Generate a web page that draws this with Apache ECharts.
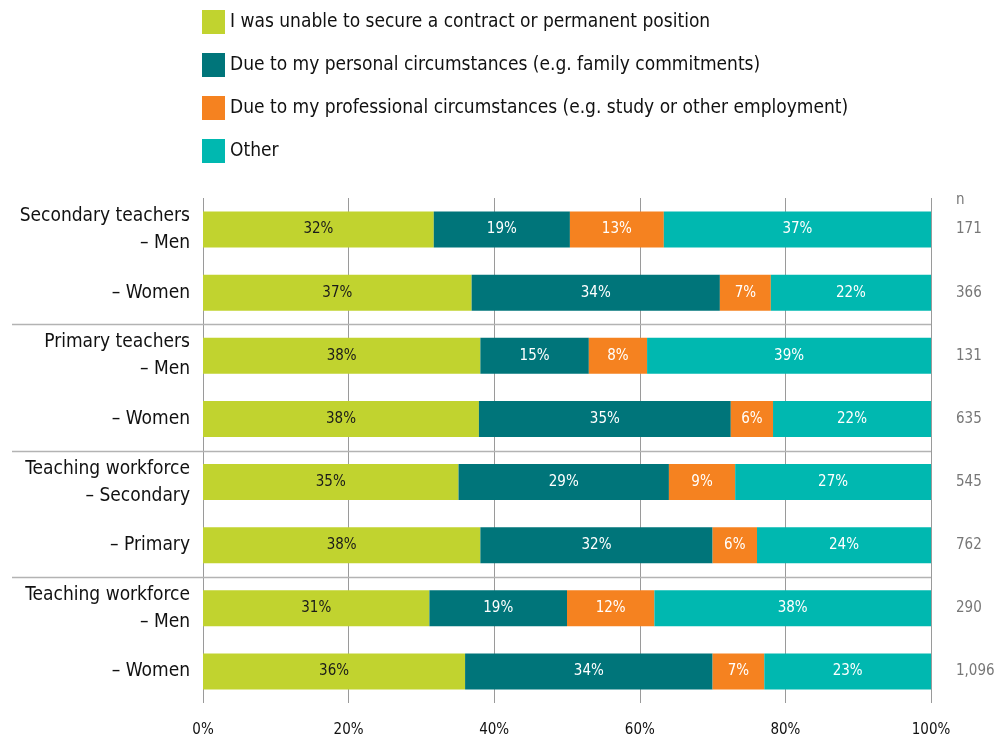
<!DOCTYPE html>
<html>
<head>
<meta charset="utf-8">
<script src="https://cdn.jsdelivr.net/npm/echarts@6/dist/echarts.min.js"></script>
<style>
  html, body { margin: 0; padding: 0; background: #fff; }
  #chart { width: 1008px; height: 740px; }
</style>
</head>
<body>
<div id="chart"></div>
<script>
// Reasons for leaving, by group (share of respondents, %)
const categories = [
  'Secondary teachers\n– Men',
  '– Women',
  'Primary teachers\n– Men',
  '– Women',
  'Teaching workforce\n– Secondary',
  '– Primary',
  'Teaching workforce\n– Men',
  '– Women'
];
const sampleSizes = ['171', '366', '131', '635', '545', '762', '290', '1,096'];

const seriesNames = [
  'I was unable to secure a contract or permanent position',
  'Due to my personal circumstances (e.g. family commitments)',
  'Due to my professional circumstances (e.g. study or other employment)',
  'Other'
];
const unableToSecure = [31.7, 36.9, 38.1, 37.9, 35.1, 38.1, 31.1, 36.0];
const personal       = [18.7, 34.1, 14.9, 34.6, 28.9, 31.9, 18.9, 34.0];
const professional   = [12.9, 7.0, 8.0, 5.8, 9.1, 6.1, 12.0, 7.1];
const other          = [36.7, 22.0, 39.0, 21.7, 26.9, 23.9, 38.0, 22.9];

const colors = ['#C1D32F', '#00757A', '#F58220', '#00B8B0'];
const labelColors = ['#1a1a1a', '#ffffff', '#ffffff', '#ffffff'];
const FONT = "'Liberation Sans Narrow', 'Arial Narrow', 'DejaVu Sans Condensed', sans-serif";

const seriesData = [unableToSecure, personal, professional, other];

const chart = echarts.init(document.getElementById('chart'), null, { renderer: 'canvas' });

const option = {
  animation: false,
  backgroundColor: '#ffffff',
  textStyle: { fontFamily: FONT },
  legend: {
    orient: 'vertical',
    left: 197,
    top: 5,
    itemWidth: 23,
    itemHeight: 24,
    itemGap: 19,
    icon: 'rect',
    selectedMode: false,
    textStyle: { fontFamily: FONT, fontSize: 19, color: '#111' },
    data: seriesNames
  },
  grid: { left: 203, right: 77, top: 198, bottom: 37 },
  xAxis: {
    type: 'value',
    min: 0,
    max: 100,
    interval: 20,
    axisLine: { show: false },
    axisTick: { show: false },
    splitLine: { show: true, lineStyle: { color: '#9a9a9a', width: 1 } },
    axisLabel: {
      formatter: '{value}%',
      fontFamily: FONT,
      fontSize: 15,
      color: '#111',
      margin: 20
    }
  },
  yAxis: [
    {
      type: 'category',
      data: categories,
      inverse: true,
      axisLine: { show: false },
      axisTick: { show: false },
      axisLabel: {
        fontFamily: FONT,
        fontSize: 19,
        lineHeight: 27,
        color: '#111',
        margin: 13,
        align: 'right'
      }
    },
    {
      type: 'category',
      data: sampleSizes,
      inverse: true,
      position: 'right',
      axisLine: { show: false },
      axisTick: { show: false },
      axisLabel: {
        fontFamily: FONT,
        fontSize: 15,
        color: '#777',
        margin: 25,
        align: 'left'
      }
    }
  ],
  series: seriesData.map((vals, i) => ({
    name: seriesNames[i],
    type: 'bar',
    stack: 'total',
    yAxisIndex: 0,
    barWidth: 36,
    itemStyle: { color: colors[i] },
    label: {
      show: true,
      position: 'inside',
      fontFamily: FONT,
      fontSize: 15,
      color: labelColors[i],
      formatter: p => Math.round(p.value) + '%'
    },
    data: vals
  }))
};

chart.setOption(option);

// Group separators between each pair of rows, plus the "n" column header
const graphics = [];
const xRight = chart.convertToPixel({ xAxisIndex: 0 }, 100);
for (let i = 1; i < categories.length - 1; i += 2) {
  const y0 = chart.convertToPixel({ yAxisIndex: 0 }, i);
  const y1 = chart.convertToPixel({ yAxisIndex: 0 }, i + 1);
  const y = Math.round((y0 + y1) / 2) + 0.5;
  graphics.push({
    type: 'line',
    shape: { x1: 12, y1: y, x2: xRight, y2: y },
    style: { stroke: '#b3b3b3', lineWidth: 1.5 },
    z: 10
  });
}
graphics.push({
  type: 'text',
  left: 956,
  top: 193,
  style: { text: 'n', fontFamily: FONT, fontSize: 15, fill: '#777' }
});
chart.setOption({ graphic: graphics });
</script>
</body>
</html>
